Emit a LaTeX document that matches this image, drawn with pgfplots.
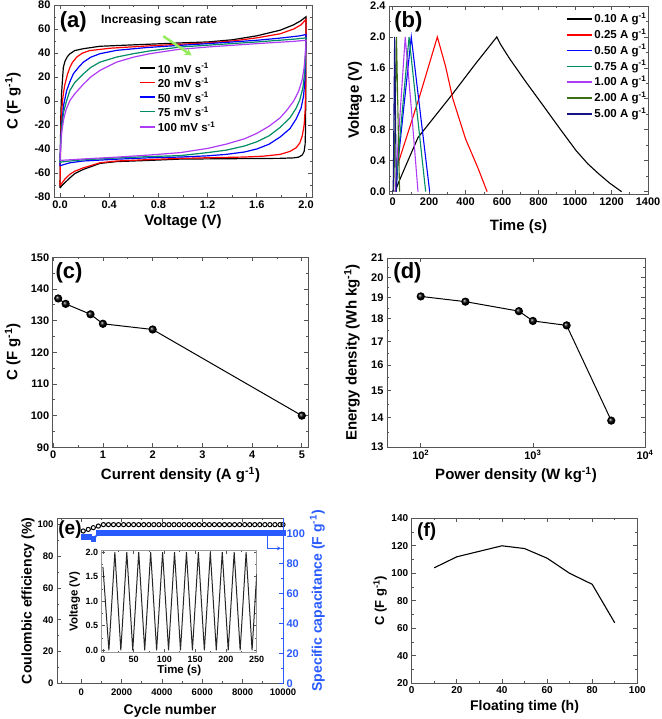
\documentclass[border=0pt]{standalone}
\usepackage{fontspec}
\setmainfont{Liberation Sans}
\usepackage{pgfplots}
\pgfplotsset{compat=1.18}
\usetikzlibrary{arrows.meta}
\definecolor{cvgreen}{RGB}{0,140,100}
\definecolor{cvpurple}{RGB}{175,60,245}
\definecolor{olivegreen}{RGB}{60,110,20}
\definecolor{navyb}{RGB}{20,20,130}
\definecolor{arrowgreen}{RGB}{150,235,90}
\definecolor{framec}{RGB}{85,85,85}
\definecolor{capblue}{RGB}{40,90,255}
\newcommand{\sz}[1]{\bfseries\fontsize{#1}{#1}\selectfont}
\pgfplotsset{
  orig/.style={
    scale only axis,
    anchor=south west,
    enlargelimits=false,
    tick align=inside,
    major tick length=4pt,
    minor tick length=2pt,
    axis line style={framec, line width=0.8pt},
    tick style={framec, line width=0.7pt},
    /pgf/number format/assume math mode=true,
    /pgf/number format/1000 sep={},
    tick label style={font=\sz{11}, black},
    label style={font=\sz{15}},
    xlabel style={anchor=center},
    ylabel style={anchor=center},
  },
  fix1/.style={/pgf/number format/.cd, fixed, fixed zerofill, precision=1},
}
\tikzset{legtxt/.style={right, black, font=\sz{11.5}, inner sep=2pt}}
\begin{document}
\begin{tikzpicture}
\useasboundingbox (0pt,0pt) rectangle (661pt,719pt);

% ---------------- (a) ----------------
\begin{axis}[orig, at={(54pt,522pt)}, width=258pt, height=192pt,
  xmin=-0.049, xmax=2.049, ymin=-80, ymax=80,
  xtick={0,0.4,0.8,1.2,1.6,2.0}, minor xtick={0.2,0.6,1.0,1.4,1.8},
  ytick={-80,-60,-40,-20,0,20,40,60,80}, minor ytick={-70,-50,-30,-10,10,30,50,70},
  xticklabel style={fix1},
  xlabel={Voltage (V)}, xlabel style={at={(axis description cs:0.5,-0.13)}},
  ylabel={C (F g\textsuperscript{-1})}, ylabel style={at={(axis description cs:-0.159,0.5)}},
  every axis plot/.append style={line width=1.2pt, no markers},
]
\addplot[color=black] coordinates {(0,-72.5) (0.003,-40) (0.007,-10) (0.012,5) (0.02,18) (0.027,28) (0.04,33) (0.06,37) (0.081,39.4) (0.12,42) (0.19,43.6) (0.325,45.6) (0.6,46.8) (0.98,48.4) (1.2,49.2) (1.4,51) (1.6,54.3) (1.79,59) (1.9,63.5) (1.96,67) (2.0,70.2)
 (1.999,30) (1.998,0) (1.996,-25) (1.993,-36) (1.985,-42) (1.97,-45) (1.94,-46.8) (1.9,-47.4) (1.79,-47.8) (1.5,-48) (0.98,-48.4) (0.73,-49.5) (0.46,-50.5) (0.325,-52) (0.19,-57) (0.12,-60.5) (0.081,-64) (0.04,-68) (0.015,-70.5) (0,-72.5)};
\addplot[color=red] coordinates {(0,-70.5) (0.004,-40) (0.01,-15) (0.02,0) (0.03,8) (0.04,14) (0.06,22) (0.08,28) (0.1,32) (0.136,36.6) (0.18,39.8) (0.24,42) (0.41,44) (0.7,45.8) (0.98,47.3) (1.2,48.4) (1.4,50) (1.6,52.6) (1.79,56) (1.9,60) (1.96,63.5) (2.0,68)
 (1.999,30) (1.997,8) (1.993,-8) (1.985,-20) (1.97,-29) (1.95,-35) (1.92,-39) (1.87,-42) (1.79,-44.5) (1.65,-46) (1.5,-46.7) (1.25,-47.2) (0.98,-47.8) (0.73,-48.8) (0.46,-50) (0.325,-51.5) (0.19,-55.7) (0.12,-58.5) (0.081,-61) (0.04,-65) (0.015,-68.5) (0,-70.5)};
\addplot[color=blue] coordinates {(0,-54) (0.005,-35) (0.015,-18) (0.03,-3) (0.054,8.7) (0.08,16) (0.108,22.6) (0.15,28) (0.19,32.4) (0.25,36.5) (0.325,39.4) (0.46,42.2) (0.7,44.5) (0.98,46.4) (1.2,47.8) (1.6,50.6) (1.8,52.5) (1.95,54.3) (2.0,55.4)
 (1.997,38) (1.992,18) (1.98,4) (1.96,-6) (1.92,-15) (1.87,-23) (1.79,-30) (1.7,-36) (1.6,-40) (1.5,-42.5) (1.35,-44.5) (1.2,-45.7) (0.98,-46.7) (0.73,-47.3) (0.46,-48.5) (0.19,-50) (0.08,-51.5) (0.03,-53) (0,-54)};
\addplot[color=cvgreen] coordinates {(0,-51) (0.005,-35) (0.015,-20) (0.03,-9) (0.05,-1) (0.08,8.7) (0.12,15.5) (0.19,22.6) (0.25,28) (0.325,32.4) (0.46,36.6) (0.6,39.5) (0.73,41.7) (0.98,45) (1.2,46.5) (1.6,49.2) (1.9,51.5) (2.0,52.6)
 (1.996,38) (1.99,24) (1.975,11) (1.95,1) (1.92,-6) (1.87,-14) (1.79,-22) (1.7,-29) (1.6,-34) (1.5,-37.5) (1.35,-41) (1.2,-43) (0.98,-45.5) (0.73,-46.3) (0.46,-47.5) (0.19,-49) (0.05,-50.3) (0,-51)};
\addplot[color=cvpurple] coordinates {(0,-49.5) (0.005,-38) (0.015,-25) (0.03,-15) (0.05,-7) (0.08,0.3) (0.12,6) (0.19,14) (0.25,20) (0.325,25.5) (0.46,32.4) (0.6,36.6) (0.73,39.4) (0.95,42.8) (1.2,45) (1.6,47.8) (1.9,49.7) (2.0,50.6)
 (1.995,40) (1.985,28) (1.97,18) (1.94,8) (1.9,0) (1.85,-7) (1.79,-14) (1.7,-21) (1.6,-27) (1.5,-31.5) (1.35,-36) (1.2,-39.5) (0.98,-43) (0.73,-45) (0.46,-46.8) (0.19,-48.3) (0.05,-49.2) (0,-49.5)};
% legend
\draw[black, line width=1.6pt] (axis description cs:0.3333,0.6703) -- ++(15pt,0pt) node[legtxt] {10 mV s\textsuperscript{-1}};
\draw[red, line width=1.6pt] (axis description cs:0.3333,0.5953) -- ++(15pt,0pt) node[legtxt] {20 mV s\textsuperscript{-1}};
\draw[blue, line width=1.6pt] (axis description cs:0.3333,0.5193) -- ++(15pt,0pt) node[legtxt] {50 mV s\textsuperscript{-1}};
\draw[cvgreen, line width=1.6pt] (axis description cs:0.3333,0.4443) -- ++(15pt,0pt) node[legtxt] {75 mV s\textsuperscript{-1}};
\draw[cvpurple, line width=1.6pt] (axis description cs:0.3333,0.3661) -- ++(15pt,0pt) node[legtxt] {100 mV s\textsuperscript{-1}};
\draw[arrowgreen, line width=2.5pt, -{Stealth[length=7pt,width=8pt]}] (axis cs:0.84,54) -- (axis cs:1.07,38);
\node[font=\sz{12}] at (axis cs:0.806,66.9) {Increasing scan rate};
\end{axis}

% ---------------- (b) ----------------
\begin{axis}[orig, at={(389pt,525pt)}, width=259pt, height=188pt,
  xmin=-20, xmax=1400, ymin=-0.03, ymax=2.4,
  xtick={0,200,400,600,800,1000,1200,1400}, minor xtick={100,300,500,700,900,1100,1300},
  ytick={0,0.4,0.8,1.2,1.6,2.0,2.4}, minor ytick={0.2,0.6,1.0,1.4,1.8,2.2},
  yticklabel style={fix1},
  xlabel={Time (s)}, xlabel style={at={(axis description cs:0.5,-0.176)}},
  ylabel={Voltage (V)}, ylabel style={at={(axis description cs:-0.131,0.5)}},
  every axis plot/.append style={line width=1.1pt, no markers},
]
\addplot[color=black] coordinates {(12,0) (40,0.16) (80,0.38) (139,0.70) (230,0.97) (321,1.24) (450,1.64) (571,2.0) (590,1.91) (641,1.72) (730,1.42) (823,1.12) (915,0.82) (1006,0.53) (1070,0.36) (1130,0.23) (1190,0.11) (1255,0.0)};
\addplot[color=red] coordinates {(15,0) (28,0.35) (100,0.88) (150,1.25) (245,2.0) (290,1.62) (330,1.2) (400,0.68) (467,0.31) (518,0.0)};
\addplot[color=blue] coordinates {(20,0) (28,0.35) (102,2.0) (150,1.05) (203,0.0)};
\addplot[color=cvgreen] coordinates {(18,0) (26,0.35) (90,2.0) (135,1.0) (181,0.0)};
\addplot[color=cvpurple] coordinates {(15,0) (22,0.35) (69,2.0) (105,1.0) (139,0.0)};
\addplot[color=olivegreen] coordinates {(5,0) (8,0.25) (21,2.0) (30,0.9) (38,0.0)};
\addplot[color=navyb] coordinates {(2,0) (4,0.2) (11,2.0) (16,0.9) (20,0.0)};
% legend
\draw[black, line width=1.6pt] (axis description cs:0.686,0.9309) -- ++(25pt,0pt) node[legtxt] {0.10 A g\textsuperscript{-1}};
\draw[red, line width=1.6pt] (axis description cs:0.686,0.8468) -- ++(25pt,0pt) node[legtxt] {0.25 A g\textsuperscript{-1}};
\draw[blue, line width=1.6pt] (axis description cs:0.686,0.7628) -- ++(25pt,0pt) node[legtxt] {0.50 A g\textsuperscript{-1}};
\draw[cvgreen, line width=1.6pt] (axis description cs:0.686,0.6787) -- ++(25pt,0pt) node[legtxt] {0.75 A g\textsuperscript{-1}};
\draw[cvpurple, line width=1.6pt] (axis description cs:0.686,0.5947) -- ++(25pt,0pt) node[legtxt] {1.00 A g\textsuperscript{-1}};
\draw[olivegreen, line width=1.6pt] (axis description cs:0.686,0.5106) -- ++(25pt,0pt) node[legtxt] {2.00 A g\textsuperscript{-1}};
\draw[navyb, line width=1.6pt] (axis description cs:0.686,0.4266) -- ++(25pt,0pt) node[legtxt] {5.00 A g\textsuperscript{-1}};
\end{axis}

% ---------------- (c) ----------------
\begin{axis}[orig, at={(52.7pt,271.7pt)}, width=255.6pt, height=190pt,
  xmin=-0.01, xmax=5.13, ymin=90, ymax=150,
  xtick={0,1,2,3,4,5}, minor xtick={0.5,1.5,2.5,3.5,4.5},
  ytick={90,100,110,120,130,140,150}, minor ytick={95,105,115,125,135,145},
  xlabel={Current density (A g\textsuperscript{-1})}, xlabel style={at={(axis description cs:0.5,-0.147)}},
  ylabel={C (F g\textsuperscript{-1})}, ylabel style={at={(axis description cs:-0.156,0.5)}},
  clip=false,
]
\addplot[black, line width=1pt, mark=ball, mark size=3.6pt, mark options={ball color=black}] coordinates {(0.1,137) (0.25,135.3) (0.75,132) (1,129) (2,127.2) (5,100)};
\end{axis}

% ---------------- (d) ----------------
\begin{axis}[orig, at={(387pt,272pt)}, width=258pt, height=189pt,
  xmode=log, ymode=log, log basis x=10,
  xmin=50, xmax=10000, ymin=13, ymax=21,
  xtick={100,1000,10000}, xticklabels={10\textsuperscript{2},10\textsuperscript{3},10\textsuperscript{4}},
  ytick={13,14,15,16,17,18,19,20,21}, yticklabels={13,14,15,16,17,18,19,20,21},
  minor ytick={13.5,14.5,15.5,16.5,17.5,18.5,19.5,20.5},
  xlabel={Power density (W kg\textsuperscript{-1})}, xlabel style={at={(axis description cs:0.5,-0.148)}},
  ylabel={Energy density (Wh kg\textsuperscript{-1})}, ylabel style={at={(axis description cs:-0.136,0.5)}},
  clip=false,
]
\addplot[black, line width=1pt, mark=ball, mark size=3.6pt, mark options={ball color=black}] coordinates {(100,19.05) (250,18.8) (750,18.35) (1000,17.9) (2000,17.7) (5000,13.9)};
\end{axis}

% ---------------- (e) ----------------
\begin{axis}[orig, at={(57pt,35.7pt)}, width=226pt, height=165pt,
  xmin=-1200, xmax=10000, ymin=0, ymax=104,
  scaled x ticks=false,
  tick label style={font=\sz{9.5}},
  xticklabel style={yshift=-2pt},
  xtick={0,2000,4000,6000,8000,10000}, minor xtick={-1000,1000,3000,5000,7000,9000},
  ytick={0,20,40,60,80,100}, minor ytick={10,30,50,70,90},
  ytick pos=left,
  label style={font=\sz{14}},
  xlabel={Cycle number}, xlabel style={at={(axis description cs:0.5,-0.165)}},
  ylabel={Coulombic efficiency (\%)}, ylabel style={at={(axis description cs:-0.128,0.5)}},
  clip=false,
]
\addplot[black, only marks, mark=o, mark size=2.1pt, mark options={line width=1pt}] coordinates {(100,96) (350,97) (600,98.1) (850,99.1) (1100,100) (1350,100) (1600,100) (1850,100) (2100,100) (2350,100) (2600,100) (2850,100) (3100,100) (3350,100) (3600,100) (3850,100) (4100,100) (4350,100) (4600,100) (4850,100) (5100,100) (5350,100) (5600,100) (5850,100) (6100,100) (6350,100) (6600,100) (6850,100) (7100,100) (7350,100) (7600,100) (7850,100) (8100,100) (8350,100) (8600,100) (8850,100) (9100,100) (9350,100) (9600,100) (9850,100) (10000,100)};
\end{axis}
\begin{axis}[orig, at={(57pt,35.7pt)}, width=226pt, height=165pt,
  xmin=-1200, xmax=10000, ymin=0, ymax=110,
  axis x line=none, axis y line*=right,
  y axis line style={capblue, line width=1pt},
  ytick style={capblue, line width=0.8pt},
  tick label style={font=\sz{11}},
  yticklabel style={capblue},
  ytick={0,20,40,60,80,100}, minor ytick={10,30,50,70,90},
  label style={font=\sz{14}},
  ylabel={Specific capacitance (F g\textsuperscript{-1})},
  ylabel style={capblue, at={(axis description cs:1.152,0.5)}},
  clip=false,
]
\addplot[capblue, line width=1.6pt, mark=square*, mark size=2pt] coordinates {(150,97.7) (400,97.7) (600,96) (850,100) (1100,100) (1350,100) (1600,100) (1850,100) (2100,100) (2350,100) (2600,100) (2850,100) (3100,100) (3350,100) (3600,100) (3850,100) (4100,100) (4350,100) (4600,100) (4850,100) (5100,100) (5350,100) (5600,100) (5850,100) (6100,100) (6350,100) (6600,100) (6850,100) (7100,100) (7350,100) (7600,100) (7850,100) (8100,100) (8350,100) (8600,100) (8850,100) (9100,100) (9350,100) (9600,100) (9850,100) (10000,100)};
\draw[capblue, line width=1pt, -{Stealth[length=4pt,width=4pt]}] (axis cs:9250,99) -- (axis cs:9250,90) -- (axis cs:9900,90);
\end{axis}
% inset
\begin{axis}[orig, at={(101.7pt,66.7pt)}, width=155pt, height=101.6pt,
  axis background/.style={fill=white},
  axis line style={gray!80, line width=0.8pt},
  xmin=-2, xmax=250, ymin=-0.04, ymax=2.03,
  tick label style={font=\sz{9}},
  major tick length=3pt, minor tick length=1.5pt,
  xtick={0,50,100,150,200,250}, minor xtick={25,75,125,175,225},
  ytick={0,0.5,1.0,1.5,2.0}, minor ytick={0.25,0.75,1.25,1.75},
  yticklabel style={fix1},
  label style={font=\sz{11.5}},
  xlabel={Time (s)}, xlabel style={at={(axis description cs:0.5,-0.18)}},
  ylabel={Voltage (V)}, ylabel style={at={(axis description cs:-0.174,0.5)}},
]
\addplot[black!85, line width=1pt, no markers] coordinates {(0,1.7) (9.7,0) (19.4,2) (29.1,0) (38.8,2) (48.5,0) (58.2,2) (67.9,0) (77.6,2) (87.3,0) (97.0,2) (106.7,0) (116.4,2) (126.1,0) (135.8,2) (145.5,0) (155.2,2) (164.9,0) (174.6,2) (184.3,0) (194.0,2) (203.7,0) (213.4,2) (223.1,0) (232.8,2) (242.5,0) (250,1.55)};
\end{axis}

% ---------------- (f) ----------------
\begin{axis}[orig, at={(411.7pt,35.7pt)}, width=225.6pt, height=165pt,
  xmin=0, xmax=100, ymin=20, ymax=140,
  tick label style={font=\sz{10}},
  xtick={0,20,40,60,80,100}, minor xtick={10,30,50,70,90},
  ytick={20,40,60,80,100,120,140}, minor ytick={30,50,70,90,110,130},
  label style={font=\sz{14}},
  xlabel={Floating time (h)}, xlabel style={at={(axis description cs:0.5,-0.144)}},
  ylabel={C (F g\textsuperscript{-1})}, ylabel style={font=\sz{13}, at={(axis description cs:-0.14,0.5)}},
]
\addplot[black, line width=1.1pt, no markers] coordinates {(10,104) (20,112) (30,116) (40,120) (50,118) (60,111) (70,100) (80,92) (90,64)};
\end{axis}

% panel labels
\node[font=\sz{22}] at (73.3pt,697.3pt) {(a)};
\node[font=\sz{22}] at (408.3pt,697.3pt) {(b)};
\node[font=\sz{22}] at (69pt,445.7pt) {(c)};
\node[font=\sz{22}] at (407.5pt,445.7pt) {(d)};
\node[font=\sz{19}] at (70pt,189pt) {(e)};
\node[font=\sz{19}] at (426.7pt,187.3pt) {(f)};
\end{tikzpicture}
\end{document}
